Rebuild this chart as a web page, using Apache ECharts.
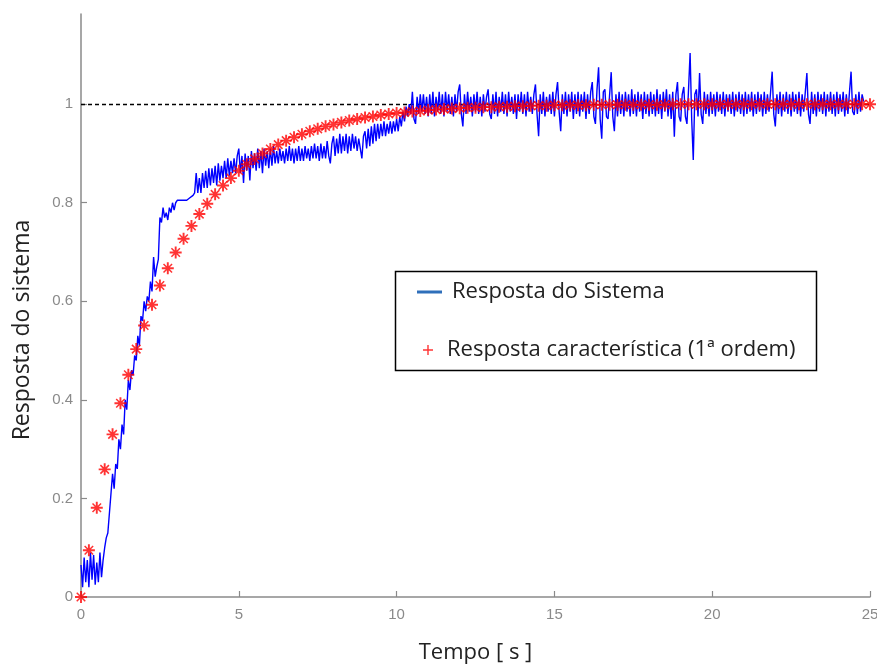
<!DOCTYPE html>
<html>
<head>
<meta charset="utf-8">
<script src="https://cdn.jsdelivr.net/npm/echarts@6/dist/echarts.min.js"></script>
<style>
  html, body { margin: 0; padding: 0; background: #fff; }
  #chart { width: 877px; height: 666px; }
</style>
</head>
<body>
<div id="chart"></div>
<script>
// Measured system response, sampled every 0.05 s starting at t = 0 (one row per second)
const sampleStep = 0.05;
const systemResponse = [
  0.065, 0.02, 0.08, 0.03, 0.075, 0.02, 0.09, 0.035, 0.085, 0.025, 0.07, 0.03, 0.09, 0.04, 0.075, 0.10, 0.12, 0.13, 0.17, 0.21,
  0.25, 0.22, 0.27, 0.26, 0.32, 0.30, 0.35, 0.33, 0.40, 0.38, 0.44, 0.42, 0.46, 0.45, 0.49, 0.48, 0.53, 0.51, 0.57, 0.56,
  0.60, 0.58, 0.61, 0.60, 0.64, 0.62, 0.69, 0.65, 0.67, 0.685, 0.77, 0.76, 0.79, 0.77, 0.78, 0.765, 0.79, 0.78, 0.80, 0.785,
  0.80, 0.805, 0.805, 0.805, 0.805, 0.805, 0.805, 0.805, 0.805, 0.81, 0.81, 0.815, 0.82, 0.86, 0.82, 0.85, 0.82, 0.86, 0.83, 0.865,
  0.83, 0.87, 0.835, 0.87, 0.84, 0.875, 0.835, 0.88, 0.845, 0.875, 0.85, 0.885, 0.85, 0.89, 0.855, 0.885, 0.86, 0.89, 0.86, 0.895,
  0.91, 0.86, 0.895, 0.84, 0.90, 0.865, 0.895, 0.845, 0.905, 0.87, 0.90, 0.865, 0.91, 0.87, 0.905, 0.86, 0.91, 0.875, 0.905, 0.87,
  0.91, 0.875, 0.915, 0.88, 0.905, 0.88, 0.91, 0.885, 0.905, 0.88, 0.91, 0.885, 0.915, 0.885, 0.91, 0.88, 0.91, 0.885, 0.915, 0.885,
  0.91, 0.885, 0.915, 0.89, 0.91, 0.885, 0.915, 0.89, 0.92, 0.89, 0.915, 0.885, 0.92, 0.89, 0.915, 0.89, 0.925, 0.895, 0.88, 0.92,
  0.935, 0.895, 0.93, 0.90, 0.94, 0.90, 0.935, 0.905, 0.94, 0.90, 0.935, 0.905, 0.94, 0.91, 0.935, 0.905, 0.93, 0.91, 0.89, 0.935,
  0.945, 0.91, 0.95, 0.915, 0.955, 0.92, 0.96, 0.925, 0.96, 0.93, 0.96, 0.935, 0.965, 0.935, 0.96, 0.94, 0.965, 0.94, 0.965, 0.945,
  0.97, 0.945, 0.975, 0.955, 0.985, 0.965, 0.995, 0.975, 1.00, 0.98, 1.025, 0.97, 0.96, 1.015, 0.98, 1.02, 0.985, 1.02, 0.98, 1.015,
  0.975, 1.02, 0.98, 1.025, 0.975, 1.015, 0.985, 1.025, 0.98, 1.02, 0.975, 1.025, 0.985, 1.02, 0.98, 1.015, 0.975, 1.02, 0.985, 1.025,
  1.04, 0.98, 0.955, 1.02, 0.98, 1.025, 0.985, 1.015, 0.975, 1.02, 0.985, 1.025, 0.98, 1.015, 0.975, 1.02, 0.985, 1.015, 1.03, 0.98,
  0.97, 1.02, 0.98, 1.025, 0.975, 1.015, 0.985, 1.025, 0.98, 1.02, 0.975, 1.025, 0.985, 1.015, 0.98, 1.02, 0.97, 1.02, 0.985, 1.025,
  0.98, 1.02, 0.975, 1.025, 0.985, 1.015, 0.98, 1.02, 1.04, 0.98, 0.935, 1.02, 0.98, 1.025, 0.975, 1.015, 0.985, 1.02, 0.98, 1.025,
  0.975, 1.02, 1.045, 0.985, 0.945, 1.02, 0.98, 1.025, 0.975, 1.02, 0.985, 1.025, 0.97, 1.02, 0.98, 1.025, 0.975, 1.02, 0.985, 1.025,
  0.97, 1.02, 0.98, 1.025, 1.045, 0.975, 0.96, 1.03, 1.075, 0.97, 0.93, 1.025, 1.03, 0.975, 0.97, 1.02, 1.065, 0.975, 0.945, 1.02,
  0.975, 1.025, 0.98, 1.02, 0.975, 1.025, 0.985, 1.02, 0.975, 1.03, 0.98, 1.02, 0.975, 1.025, 0.985, 1.02, 0.97, 1.025, 0.98, 1.02,
  0.975, 1.025, 0.98, 1.02, 0.975, 1.03, 0.98, 1.02, 0.97, 1.025, 0.985, 1.03, 0.975, 1.02, 0.97, 1.025, 0.934, 1.02, 1.045, 0.975,
  0.965, 1.02, 1.035, 0.975, 0.96, 1.03, 1.104, 0.97, 0.887, 1.02, 1.03, 0.975, 1.063, 0.98, 0.96, 1.025, 0.98, 1.02, 0.975, 1.025,
  0.98, 1.02, 0.975, 1.025, 0.985, 1.02, 0.98, 1.025, 0.975, 1.02, 0.985, 1.02, 0.98, 1.025, 0.975, 1.02, 0.985, 1.025, 0.98, 1.02,
  0.975, 1.025, 0.98, 1.02, 0.985, 1.025, 0.975, 1.02, 0.98, 1.025, 0.985, 1.02, 0.975, 1.025, 0.98, 1.02, 0.985, 1.025, 1.066, 0.98,
  0.955, 1.02, 0.98, 1.025, 0.975, 1.02, 0.985, 1.025, 0.98, 1.02, 0.975, 1.025, 0.985, 1.02, 0.98, 1.025, 0.975, 1.02, 0.985, 1.025,
  1.063, 0.98, 0.96, 1.025, 0.98, 1.02, 0.975, 1.025, 0.985, 1.02, 0.98, 1.025, 0.975, 1.02, 0.985, 1.025, 0.98, 1.02, 0.975, 1.025,
  0.98, 1.02, 0.985, 1.025, 0.975, 1.02, 0.98, 1.025, 1.066, 0.985, 0.978, 1.02, 0.98, 1.025, 0.985, 1.02, 1.005
];

// First-order characteristic response, one marker every 0.25 s
const markerStep = 0.25;
const firstOrderResponse = [
  0.000, 0.095, 0.181, 0.259, 0.330, 0.393, 0.451, 0.503, 0.551, 0.593,
  0.632, 0.667, 0.699, 0.727, 0.753, 0.777, 0.798, 0.817, 0.835, 0.850,
  0.865, 0.878, 0.889, 0.900, 0.909, 0.918, 0.926, 0.933, 0.939, 0.945,
  0.950, 0.955, 0.959, 0.963, 0.967, 0.970, 0.973, 0.975, 0.978, 0.980,
  0.982, 0.983, 0.985, 0.986, 0.988, 0.989, 0.990, 0.991, 0.992, 0.993,
  0.993, 0.994, 0.994, 0.995, 0.995, 0.996, 0.996, 0.997, 0.997, 0.997,
  0.998, 0.998, 0.998, 0.998, 0.998, 0.999, 0.999, 0.999, 0.999, 0.999,
  0.999, 0.999, 0.999, 0.999, 0.999, 1.000, 1.000, 1.000, 1.000, 1.000,
  1.000, 1.000, 1.000, 1.000, 1.000, 1.000, 1.000, 1.000, 1.000, 1.000,
  1.000, 1.000, 1.000, 1.000, 1.000, 1.000, 1.000, 1.000, 1.000, 1.000,
  1.000
];

const xTicks = [0, 5, 10, 15, 20, 25];
const yTicks = [0, 0.2, 0.4, 0.6, 0.8, 1];
const referenceLevel = 1;

const seriesNames = ['Resposta do Sistema', 'Resposta característica (1ª ordem)'];

const systemPoints = systemResponse.map((v, i) => [+(i * sampleStep).toFixed(2), v]);
const markerPoints = firstOrderResponse.map((v, i) => [+(i * markerStep).toFixed(2), v]);

// Six-armed asterisk used for the first-order markers
const asteriskPath = 'path://M4.2,0H5.8V10H4.2Z M0,4.2H10V5.8H0Z M1.9,1L9,8.1L8.1,9L1,1.9Z M8.1,1L9,1.9L1.9,9L1,8.1Z';
const plusPath = 'path://M4.3,0H5.7V10H4.3Z M0,4.3H10V5.7H0Z';

const textFont = 'Open Sans';
const tickFont = 'Liberation Sans';
const tickColor = '#8a8a8a';
const textColor = '#222222';

const chart = echarts.init(document.getElementById('chart'), null, { renderer: 'canvas' });

chart.setOption({
  animation: false,
  backgroundColor: '#ffffff',
  grid: { left: 81, right: 7, top: 14, bottom: 69, containLabel: false, outerBoundsMode: 'none' },
  xAxis: {
    type: 'value',
    min: 0,
    max: 25,
    interval: 5,
    name: 'Tempo [ s ]',
    nameLocation: 'middle',
    nameGap: 45,
    nameTextStyle: { fontFamily: textFont, fontSize: 22, color: textColor },
    axisLine: { show: true, onZero: false, lineStyle: { color: tickColor, width: 1.5 } },
    axisTick: { show: true, inside: true, length: 6, lineStyle: { color: tickColor, width: 1.2 }, customValues: xTicks },
    axisLabel: { color: tickColor, fontFamily: tickFont, fontSize: 15, margin: 10, customValues: xTicks },
    splitLine: { show: false }
  },
  yAxis: {
    type: 'value',
    min: 0,
    max: 1.183,
    axisLine: { show: true, onZero: false, lineStyle: { color: tickColor, width: 1.5 } },
    axisTick: { show: true, inside: true, length: 6, lineStyle: { color: tickColor, width: 1.2 }, customValues: yTicks },
    axisLabel: { color: tickColor, fontFamily: tickFont, fontSize: 15, margin: 8, customValues: yTicks },
    splitLine: { show: false }
  },
  legend: [
    {
      left: 417, top: 278, padding: 0,
      itemWidth: 25, itemHeight: 3,
      data: [{ name: seriesNames[0], icon: 'rect', itemStyle: { color: '#2f6fba' } }],
      textStyle: { fontFamily: textFont, fontSize: 22, color: textColor, lineHeight: 28, padding: [0, 0, 0, 5] }
    },
    {
      left: 423, top: 336, padding: 0,
      itemWidth: 10, itemHeight: 10,
      data: [{ name: seriesNames[1], icon: plusPath }],
      textStyle: { fontFamily: textFont, fontSize: 22, color: textColor, lineHeight: 28, padding: [0, 0, 0, 9] }
    }
  ],
  graphic: [
    {
      type: 'rect',
      shape: { x: 395.5, y: 271.5, width: 421, height: 99 },
      style: { fill: 'rgba(0,0,0,0)', stroke: '#000', lineWidth: 1.5 },
      z: 100
    },
    {
      type: 'text',
      x: 22, y: 330,
      rotation: Math.PI / 2,
      style: { text: 'Resposta do sistema', fontFamily: textFont, fontSize: 23, fill: textColor, align: 'center', verticalAlign: 'middle' }
    }
  ],
  series: [
    {
      name: seriesNames[0],
      type: 'line',
      data: systemPoints,
      showSymbol: false,
      symbol: 'none',
      lineStyle: { color: '#0000ff', width: 1.4 },
      itemStyle: { color: '#0000ff' },
      z: 2,
      markLine: {
        silent: true,
        symbol: 'none',
        label: { show: false },
        lineStyle: { color: '#000', type: [4, 3], width: 1.3 },
        data: [{ yAxis: referenceLevel }],
        z: 1
      }
    },
    {
      name: seriesNames[1],
      type: 'scatter',
      data: markerPoints,
      symbol: asteriskPath,
      symbolSize: 12,
      itemStyle: { color: '#ff0000' },
      z: 3
    }
  ]
});
</script>
</body>
</html>
